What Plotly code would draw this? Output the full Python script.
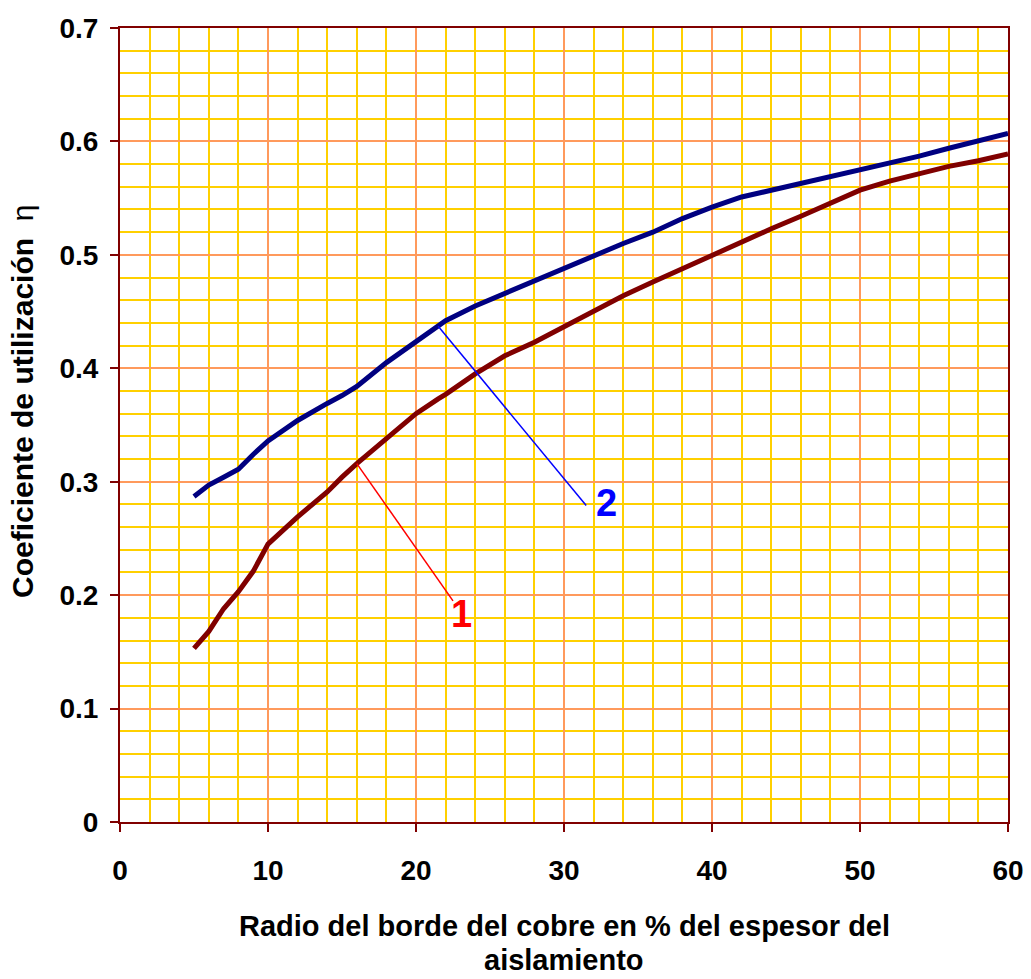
import plotly.graph_objects as go

# Edge radius as % of insulation thickness
x_vals = [5, 6, 7, 8, 9, 10, 12, 13, 14, 15, 16, 18, 20, 21.5, 22, 24, 26, 28, 30, 32, 34,
          36, 38, 40, 42, 44, 46, 48, 50, 52, 54, 56, 58, 60]

# Curve 1 utilisation coefficient
eta_1 = [0.153, 0.168, 0.188, 0.203, 0.221, 0.245, 0.269, 0.280, 0.291, 0.304, 0.316,
         0.338, 0.360, 0.373, 0.377, 0.395, 0.411, 0.423, 0.437, 0.450, 0.464,
         0.476, 0.488, 0.499, 0.512, 0.523, 0.534, 0.546, 0.557, 0.565, 0.572,
         0.578, 0.583, 0.589]

# Curve 2 utilisation coefficient
eta_2 = [0.287, 0.297, 0.304, 0.311, 0.324, 0.336, 0.354, 0.362, 0.369, 0.376, 0.384,
         0.405, 0.424, 0.437, 0.442, 0.455, 0.466, 0.477, 0.489, 0.500, 0.510,
         0.520, 0.532, 0.542, 0.551, 0.557, 0.563, 0.569, 0.575, 0.580, 0.587,
         0.594, 0.601, 0.607]

curve_names = ["1", "2"]
curve_colors = ["#800000", "#000080"]
leader_colors = ["#FF0000", "#0000FF"]
# curve sample where each leader starts, and where its label sits
leader_anchor_x = [16, 21.5]
label_x = [23.1, 32.9]
label_y = [0.183, 0.281]
leader_end_x = [22.5, 31.5]
leader_end_y = [0.195, 0.279]

x_ticks = [0, 10, 20, 30, 40, 50, 60]
y_ticks = [0, 0.1, 0.2, 0.3, 0.4, 0.5, 0.6, 0.7]

x_title_lines = ["Radio del borde del cobre en % del espesor del", "aislamiento"]
y_title = "<b>Coeficiente de utilización</b>  η"

FONT = "Arial, Liberation Sans, sans-serif"

fig = go.Figure()

for name, ys, col in zip(curve_names, [eta_1, eta_2], curve_colors):
    fig.add_trace(go.Scatter(x=x_vals, y=ys, mode="lines", name=name,
                             line=dict(color=col, width=5), showlegend=False))

for i, ys in enumerate([eta_1, eta_2]):
    k = x_vals.index(leader_anchor_x[i])
    fig.add_trace(go.Scatter(x=[x_vals[k], leader_end_x[i]], y=[ys[k], leader_end_y[i]],
                             mode="lines", line=dict(color=leader_colors[i], width=1.5),
                             showlegend=False, hoverinfo="skip"))
    fig.add_annotation(x=label_x[i], y=label_y[i], text="<b>%s</b>" % curve_names[i],
                       showarrow=False, font=dict(family=FONT, size=38, color=leader_colors[i]))

axis_common = dict(
    showline=True, linecolor="#800000", linewidth=2, mirror=True,
    ticks="outside", ticklen=8, tickcolor="#800000", tickwidth=2,
    showgrid=True, gridcolor="#FF9A5C", gridwidth=1.5,
    tickfont=dict(family=FONT, size=28, color="black", weight="bold"),
    zeroline=False, automargin=False,
)

fig.update_xaxes(range=[0, 60], tickvals=x_ticks, ticktext=[str(v) for v in x_ticks],
                 minor=dict(dtick=2, showgrid=True, gridcolor="#FFD000", gridwidth=1.5),
                 ticklabelstandoff=14, **axis_common)
fig.update_yaxes(range=[0, 0.7], tickvals=y_ticks, ticktext=[("%.1f" % v) if v else "0" for v in y_ticks],
                 minor=dict(dtick=0.02, showgrid=True, gridcolor="#FFD000", gridwidth=1.5),
                 ticklabelstandoff=6, **axis_common)

# axis titles
for line, ypix in zip(x_title_lines, [926, 960]):
    fig.add_annotation(x=0.5, xref="paper", y=ypix, yref="paper", text="<b>%s</b>" % line,
                       showarrow=False, font=dict(family=FONT, size=29, color="black"),
                       xanchor="center", yanchor="middle")
fig.add_annotation(x=22, xref="paper", y=402, yref="paper", text=y_title, textangle=-90,
                   showarrow=False, font=dict(family=FONT, size=30, color="black"),
                   xanchor="center", yanchor="middle")

fig.update_layout(width=1031, height=979, margin=dict(l=120, r=23, t=28, b=157),
                  plot_bgcolor="white", paper_bgcolor="white")

# title annotations placed in pixel terms relative to the plotting area
PLOT_L, PLOT_R, PLOT_T, PLOT_B = 120, 1031 - 23, 28, 979 - 157
for ann in fig.layout.annotations:
    if ann.xref == "paper" and ann.yref == "paper":
        if ann.x > 1:
            ann.x = (ann.x - PLOT_L) / (PLOT_R - PLOT_L)
        if ann.y > 1:
            ann.y = (PLOT_B - ann.y) / (PLOT_B - PLOT_T)

fig.write_html("out.html")
